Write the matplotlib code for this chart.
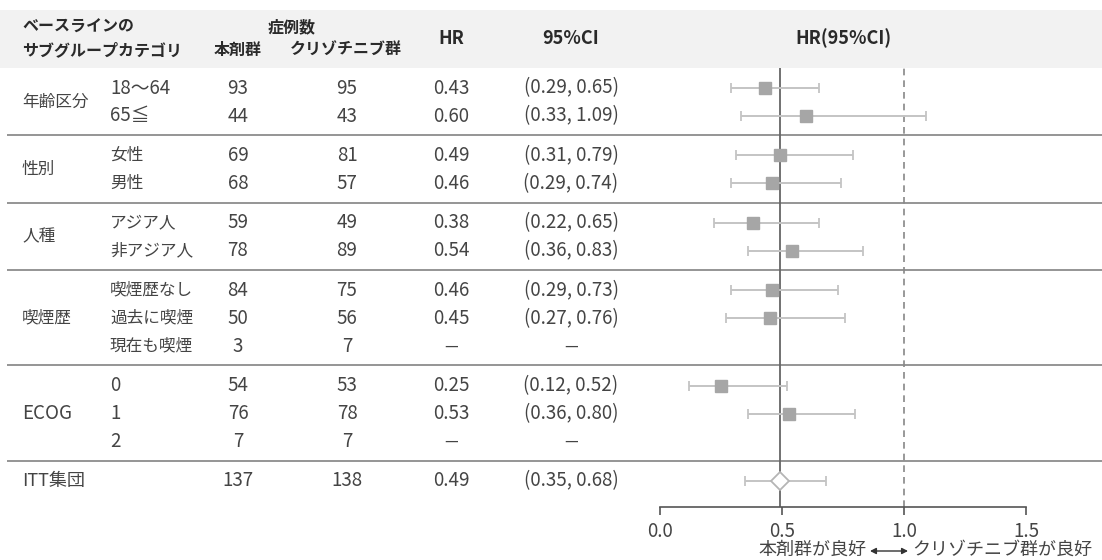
import matplotlib
matplotlib.use("Agg")
import matplotlib.pyplot as plt
from matplotlib.patches import Rectangle

plt.rcParams['font.family'] = ['Noto Sans CJK JP', 'DejaVu Sans']

# ---------------- data ----------------
groups = ["年齢区分", "性別", "人種", "喫煙歴", "ECOG", "ITT集団"]
group_sizes = [2, 2, 2, 3, 3, 1]
subgroups = ["18～64", "65≦", "女性", "男性", "アジア人", "非アジア人",
             "喫煙歴なし", "過去に喫煙", "現在も喫煙", "0", "1", "2", ""]
n_drug = [93, 44, 69, 68, 59, 78, 84, 50, 3, 54, 76, 7, 137]
n_criz = [95, 43, 81, 57, 49, 89, 75, 56, 7, 53, 78, 7, 138]
hr = [0.43, 0.60, 0.49, 0.46, 0.38, 0.54, 0.46, 0.45, None, 0.25, 0.53, None, 0.49]
ci_lo = [0.29, 0.33, 0.31, 0.29, 0.22, 0.36, 0.29, 0.27, None, 0.12, 0.36, None, 0.35]
ci_hi = [0.65, 1.09, 0.79, 0.74, 0.65, 0.83, 0.73, 0.76, None, 0.52, 0.80, None, 0.68]
x_ticks = [0.0, 0.5, 1.0, 1.5]
ref_hr = 0.49   # overall HR line
null_hr = 1.0

# ---------------- layout (pixels) ----------------
W, H = 1102, 560
row_h = 28.0
gap = 11.4
y0 = 88.0
row_y = []
sep_y = []
y = y0
for gi, sz in enumerate(group_sizes):
    if gi > 0:
        sep_y.append(y - (row_h + gap) / 2 - 0.5)
    for k in range(sz):
        row_y.append(y)
        y += row_h
    y += gap

band_top, band_bot = 10, 68
axis_y = 507
x0_px, x15_px = 660, 1026

body_c = "#444444"
head_c = "#2a2a2a"
fs = 12          # CJK body text
fs_num = 13.5    # numbers / latin text
hfs = 11.5       # CJK header
hfs_lat = 13     # latin header


def size_for(s):
    if s.isascii():
        return fs_num
    if any(c.isdigit() for c in s):
        return fs_num
    if any(c.isascii() for c in s):
        return 13
    return fs


fig = plt.figure(figsize=(W / 100, H / 100), dpi=100)
tab = fig.add_axes([0, 0, 1, 1])
tab.set_xlim(0, W)
tab.set_ylim(H, 0)
tab.axis("off")

# header band
tab.add_patch(Rectangle((0, band_top), W, band_bot - band_top,
                        facecolor="#f2f2f2", edgecolor="none", zorder=0))
# separators
for sy in sep_y:
    tab.plot([7, W], [sy, sy], color="#8c8c8c", lw=1.3, zorder=1,
             solid_capstyle="butt")

# header text
hk = dict(color=head_c, fontweight="bold", va="center")
tab.text(22, 27, "ベースラインの", ha="left", fontsize=hfs, **hk)
tab.text(22, 50, "サブグループカテゴリ", ha="left", fontsize=hfs, **hk)
tab.text(292, 27, "症例数", ha="center", fontsize=hfs, **hk)
tab.text(238, 50, "本剤群", ha="center", fontsize=hfs, **hk)
tab.text(346, 50, "クリゾチニブ群", ha="center", fontsize=hfs, **hk)
tab.text(451, 38, "HR", ha="center", fontsize=hfs_lat, **hk)
tab.text(571, 38, "95%CI", ha="center", fontsize=hfs_lat, **hk)
tab.text(843, 38, "HR(95%CI)", ha="center", fontsize=hfs_lat, **hk)

# body text
bk = dict(color=body_c, va="center")
idx = 0
for g, sz in zip(groups, group_sizes):
    ys = row_y[idx:idx + sz]
    tab.text(22, sum(ys) / len(ys), g, ha="left", fontsize=size_for(g), **bk)
    idx += sz
for i, yy in enumerate(row_y):
    if subgroups[i]:
        tab.text(110, yy, subgroups[i], ha="left",
                 fontsize=size_for(subgroups[i]), **bk)
    tab.text(238, yy, str(n_drug[i]), ha="center", fontsize=fs_num, **bk)
    tab.text(347, yy, str(n_criz[i]), ha="center", fontsize=fs_num, **bk)
    if hr[i] is None:
        tab.text(451, yy, "—", ha="center", fontsize=11, **bk)
        tab.text(571, yy, "—", ha="center", fontsize=11, **bk)
    else:
        tab.text(451, yy, f"{hr[i]:.2f}", ha="center", fontsize=fs_num, **bk)
        tab.text(571, yy, f"({ci_lo[i]:.2f}, {ci_hi[i]:.2f})", ha="center",
                 fontsize=fs_num, **bk)

# bottom annotation
tab.text(866, 550, "本剤群が良好", ha="right", fontsize=13, **bk)
tab.text(912, 550, "クリゾチニブ群が良好", ha="left", fontsize=13, **bk)
tab.annotate("", xy=(908, 551), xytext=(870, 551),
             arrowprops=dict(arrowstyle="<|-|>,head_length=0.35,head_width=0.18",
                             color="#333333", lw=1.0, shrinkA=0, shrinkB=0))

# ---------------- forest axes ----------------
fx = fig.add_axes([x0_px / W, (H - axis_y) / H, (x15_px - x0_px) / W,
                   (axis_y - band_bot) / H])
fx.set_xlim(x_ticks[0], x_ticks[-1])
fx.set_ylim(axis_y, band_bot)
fx.patch.set_alpha(0)
for s in ["top", "right", "left"]:
    fx.spines[s].set_visible(False)
fx.spines["bottom"].set_color("#555555")
fx.spines["bottom"].set_linewidth(1.2)
fx.set_yticks([])
fx.set_xticks(x_ticks)
fx.set_xticklabels([f"{t:.1f}" for t in x_ticks])
fx.tick_params(axis="x", direction="out", length=6, width=1.2, color="#555555",
               labelsize=fs_num, labelcolor=body_c, pad=4)

fx.axvline(ref_hr, color="#666666", lw=1.3, zorder=2)
fx.axvline(null_hr, color="#888888", lw=1.2, ls=(0, (4, 3)), zorder=2)

n = len(row_y)
for i in range(n):
    if hr[i] is None:
        continue
    yy = row_y[i]
    fx.errorbar([hr[i]], [yy], xerr=[[hr[i] - ci_lo[i]], [ci_hi[i] - hr[i]]],
                fmt="none", ecolor="#c4c4c4", elinewidth=1.4, capsize=3.5,
                capthick=1.3, zorder=3, clip_on=False)
    if i == n - 1:
        fx.plot([hr[i]], [yy], marker="D", ms=9, mfc="white", mec="#b5b5b5",
                mew=1.3, zorder=4, clip_on=False)
    else:
        fx.plot([hr[i]], [yy], marker="s", ms=8, mfc="#a6a6a6", mec="#a6a6a6",
                zorder=4, clip_on=False)

fig.savefig("out.png", dpi=100)
